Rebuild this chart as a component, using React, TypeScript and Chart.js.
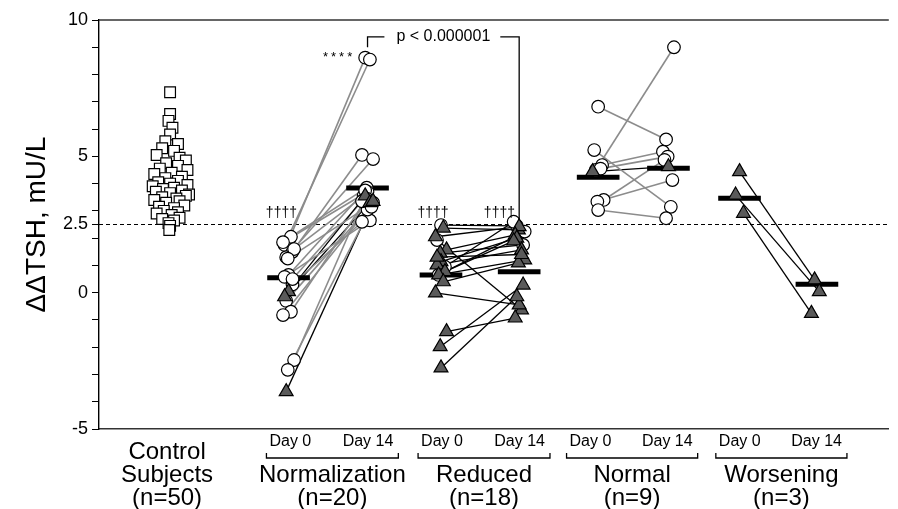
import React, { useEffect, useRef } from 'react';
import { Chart, registerables } from 'chart.js';

Chart.register(...registerables);

const FONT = '"Liberation Sans", Arial, Helvetica, sans-serif';

// ---------- axis ----------
const Y_MIN = -5;
const Y_MAX = 10;
const Y_TICKS = [-5, -4, -3, -2, -1, 0, 1, 2, 2.5, 3, 4, 5, 6, 7, 8, 9, 10];
const Y_LABELED = [-5, 0, 2.5, 5, 10];
const THRESHOLD = 2.5;
const Y_TITLE = 'ΔΔTSH, mU/L';

// ---------- control subjects ----------
const CONTROL_LABEL = ['Control', 'Subjects', '(n=50)'];
const CONTROL_X = 0.9;
const CONTROL_VALUES = [
  7.35, 6.55, 6.3, 6.05, 5.8, 5.55, 5.45, 5.3, 5.2, 5.05,
  4.95, 4.85, 4.75, 4.65, 4.55, 4.5, 4.4, 4.35, 4.25, 4.2,
  4.1, 4.05, 4.0, 3.95, 3.9, 3.85, 3.8, 3.75, 3.7, 3.65,
  3.6, 3.55, 3.5, 3.45, 3.4, 3.35, 3.3, 3.2, 3.15, 3.1,
  3.0, 2.95, 2.9, 2.85, 2.75, 2.7, 2.65, 2.55, 2.45, 2.3,
];
const CONTROL_OFFSETS = [
  0, 0, -0.02, 0.03, 0, -0.06, 0.1, -0.1, 0.05, -0.17,
  0.12, 0.2, -0.05, 0.1, -0.13, 0.22, 0.02, -0.2, 0.15, -0.06,
  0.1, -0.15, 0.0, 0.22, -0.22, 0.05, -0.09, 0.15, -0.18, 0.0,
  0.24, 0.2, -0.1, 0.08, -0.2, 0.12, -0.05, 0.18, -0.14, 0.05,
  -0.08, 0.1, -0.17, 0.02, 0.12, -0.1, 0.05, -0.02, 0.0, -0.01,
];
const CONTROL_MEAN = 3.88;

// ---------- paired groups ----------
const GROUP_NAMES = ['Normalization', 'Reduced', 'Normal', 'Worsening'];
const GROUP_N = ['(n=20)', '(n=18)', '(n=9)', '(n=3)'];
const DAY_LABELS = ['Day 0', 'Day 14'];
const DAY0_X = [2.4, 4.33, 6.32, 8.11];
const DAY14_X = [3.4, 5.32, 7.21, 9.09];
const BRACKET_START = [2.12, 4.04, 5.92, 7.81];
const BRACKET_END = [3.79, 5.71, 7.58, 9.47];
const MEAN_DAY0 = [0.55, 0.65, 4.23, 3.46];
const MEAN_DAY14 = [3.84, 0.77, 4.56, 0.31];

// o = open circle, t = filled triangle ; g = grey line, k = black line
const NORM_DAY0 = [1.9, 1.75, 1.5, 1.3, 2.05, 1.85, 1.6, 1.25, 0.65, 0.58, 0.3, -0.3, -0.7, -0.82, -2.47, -2.83, 0.04, -0.15, 0.5, -3.63];
const NORM_DAY14 = [8.62, 8.55, 5.05, 4.9, 3.85, 3.7, 3.55, 3.25, 3.75, 2.65, 2.6, 3.3, 3.45, 3.05, 3.4, 3.15, 3.55, 3.3, 3.35, 3.35];
const NORM_SHAPE0 = ['o', 'o', 'o', 'o', 'o', 'o', 'o', 'o', 'o', 'o', 'o', 'o', 'o', 'o', 'o', 'o', 't', 't', 'o', 't'];
const NORM_SHAPE14 = ['o', 'o', 'o', 'o', 'o', 'o', 'o', 'o', 'o', 'o', 'o', 'o', 'o', 'o', 'o', 'o', 't', 't', 'o', 't'];
const NORM_LINE = ['g', 'g', 'g', 'g', 'g', 'g', 'g', 'g', 'g', 'g', 'g', 'g', 'g', 'g', 'g', 'g', 'k', 'k', 'g', 'k'];

const RED_DAY0 = [2.48, 1.93, 0.95, 0.65, 2.37, 2.05, 1.57, 1.45, 1.14, 1.02, 0.77, 0.65, 0.4, -0.01, -1.43, -1.98, -2.76, 1.3];
const RED_DAY14 = [2.45, -0.63, 2.6, 2.24, 2.3, 2.42, 2.12, 1.75, 2.0, 1.57, 1.9, 1.2, 1.09, -0.45, -0.93, 0.28, -0.15, 1.4];
const RED_SHAPE0 = ['o', 'o', 'o', 'o', 't', 't', 't', 't', 't', 't', 't', 't', 't', 't', 't', 't', 't', 't'];
const RED_SHAPE14 = ['o', 't', 'o', 'o', 't', 't', 't', 'o', 't', 't', 't', 't', 't', 't', 't', 't', 't', 't'];
const RED_LINE = ['k', 'k', 'k', 'k', 'k', 'k', 'k', 'k', 'k', 'k', 'k', 'k', 'k', 'k', 'k', 'k', 'k', 'k'];

const NML_DAY0 = [6.82, 5.23, 4.68, 4.5, 4.55, 4.44, 3.4, 3.34, 3.03];
const NML_DAY14 = [5.62, 3.15, 5.17, 9.0, 4.99, 4.62, 4.87, 4.13, 2.73];
const NML_SHAPE0 = ['o', 'o', 'o', 'o', 'o', 't', 'o', 'o', 'o'];
const NML_SHAPE14 = ['o', 'o', 'o', 'o', 'o', 't', 'o', 'o', 'o'];
const NML_LINE = ['g', 'g', 'g', 'g', 'g', 'k', 'g', 'g', 'g'];

const WORS_DAY0 = [4.44, 3.58, 2.91];
const WORS_DAY14 = [0.47, 0.04, -0.76];
const WORS_SHAPE0 = ['t', 't', 't'];
const WORS_SHAPE14 = ['t', 't', 't'];
const WORS_LINE = ['k', 'k', 'k'];

// ---------- annotations ----------
const ANNOT_TEXT = ['††††', '††††', '††††', '****'];
const ANNOT_X = [2.31, 4.23, 5.07, 3.04];
const ANNOT_Y = [2.92, 2.92, 2.92, 8.64];
const P_TEXT = 'p < 0.000001';
const P_TOP = 9.38;
const P_LEFT_BOTTOM = 9.0;
const P_RIGHT_BOTTOM = 2.65;

// ---------- layout / style (not data) ----------
const JITTER = [0, -0.05, 0.05, -0.03, 0.03, -0.07, 0.07, -0.01];
const MEAN_HALF = 0.27;
const GREY = '#8c8c8c';
const TRI_FILL = '#5a5a5a';

const GROUPS = [
  { d0: NORM_DAY0, d14: NORM_DAY14, s0: NORM_SHAPE0, s14: NORM_SHAPE14, line: NORM_LINE },
  { d0: RED_DAY0, d14: RED_DAY14, s0: RED_SHAPE0, s14: RED_SHAPE14, line: RED_LINE },
  { d0: NML_DAY0, d14: NML_DAY14, s0: NML_SHAPE0, s14: NML_SHAPE14, line: NML_LINE },
  { d0: WORS_DAY0, d14: WORS_DAY14, s0: WORS_SHAPE0, s14: WORS_SHAPE14, line: WORS_LINE },
];

function buildDatasets() {
  const lines: any[] = [];
  const circles: any[] = [];
  const triangles: any[] = [];
  GROUPS.forEach((g, gi) => {
    g.d0.forEach((v0, i) => {
      const x0 = DAY0_X[gi] + JITTER[i % JITTER.length];
      const x1 = DAY14_X[gi] + JITTER[(i + 3) % JITTER.length];
      const v1 = g.d14[i];
      lines.push({
        data: [{ x: x0, y: v0 }, { x: x1, y: v1 }],
        showLine: true,
        pointRadius: 0,
        borderColor: g.line[i] === 'g' ? GREY : '#000',
        borderWidth: g.line[i] === 'g' ? 1.6 : 1.3,
        order: 3,
      });
      (g.s0[i] === 't' ? triangles : circles).push({ x: x0, y: v0 });
      (g.s14[i] === 't' ? triangles : circles).push({ x: x1, y: v1 });
    });
  });
  const means: any[] = [];
  const meanPairs: [number, number][] = [[CONTROL_X, CONTROL_MEAN]];
  DAY0_X.forEach((x, i) => meanPairs.push([x, MEAN_DAY0[i]]));
  DAY14_X.forEach((x, i) => meanPairs.push([x, MEAN_DAY14[i]]));
  meanPairs.forEach(([x, m]) => {
    means.push({
      data: [{ x: x - MEAN_HALF, y: m }, { x: x + MEAN_HALF, y: m }],
      showLine: true,
      pointRadius: 0,
      borderColor: '#000',
      borderWidth: 5,
      borderCapStyle: 'butt',
      order: 2,
    });
  });
  const control = {
    data: CONTROL_VALUES.map((v, i) => ({ x: CONTROL_X + CONTROL_OFFSETS[i], y: v })),
    pointStyle: 'rect',
    pointRadius: 7.6,
    backgroundColor: '#fff',
    borderColor: '#000',
    borderWidth: 1.2,
    order: 1,
  };
  const circ = {
    data: circles,
    pointStyle: 'circle',
    pointRadius: 6.3,
    backgroundColor: '#fff',
    borderColor: '#000',
    borderWidth: 1.2,
    order: 1,
  };
  const tri = {
    data: triangles,
    pointStyle: 'triangle',
    pointRadius: 8,
    backgroundColor: TRI_FILL,
    borderColor: '#000',
    borderWidth: 1.2,
    order: 0,
  };
  return [...lines, ...means, control, circ, tri];
}

const decor = {
  id: 'decor',
  beforeDatasetsDraw(chart: any) {
    const { ctx, chartArea, scales } = chart;
    const { left, right, top } = chartArea;
    ctx.save();
    const ty = scales.y.getPixelForValue(THRESHOLD);
    ctx.strokeStyle = '#000';
    ctx.lineWidth = 1;
    ctx.setLineDash([4, 3]);
    ctx.beginPath();
    ctx.moveTo(left, ty);
    ctx.lineTo(right, ty);
    ctx.stroke();
    ctx.setLineDash([]);
    ctx.strokeStyle = '#333';
    ctx.lineWidth = 1.6;
    ctx.beginPath();
    ctx.moveTo(left, top);
    ctx.lineTo(right, top);
    ctx.stroke();
    ctx.restore();
  },
  afterDraw(chart: any) {
    const { ctx, chartArea, scales } = chart;
    const { bottom, top } = chartArea;
    const xs = scales.x;
    const ys = scales.y;
    ctx.save();
    ctx.fillStyle = '#000';
    ctx.strokeStyle = '#000';

    // y title, centred on the axis
    ctx.save();
    ctx.translate(45, (top + bottom) / 2);
    ctx.rotate(-Math.PI / 2);
    ctx.font = `28px ${FONT}`;
    ctx.textAlign = 'center';
    ctx.textBaseline = 'alphabetic';
    ctx.fillText(Y_TITLE, 0, 0);
    ctx.restore();

    // control label
    ctx.font = `24px ${FONT}`;
    ctx.textAlign = 'center';
    ctx.textBaseline = 'middle';
    const cx = xs.getPixelForValue(CONTROL_X) - 3;
    CONTROL_LABEL.forEach((t, i) => ctx.fillText(t, cx, bottom + 23 + i * 23));

    // group labels
    GROUP_NAMES.forEach((name, gi) => {
      const bs = xs.getPixelForValue(BRACKET_START[gi]);
      const be = xs.getPixelForValue(BRACKET_END[gi]);
      ctx.font = `16px ${FONT}`;
      ctx.textBaseline = 'middle';
      ctx.textAlign = 'left';
      ctx.fillText(DAY_LABELS[0], bs + 3, bottom + 13);
      ctx.textAlign = 'right';
      ctx.fillText(DAY_LABELS[1], be - 5, bottom + 13);
      ctx.lineWidth = 1.3;
      ctx.beginPath();
      ctx.moveTo(bs, bottom + 24);
      ctx.lineTo(bs, bottom + 29);
      ctx.lineTo(be, bottom + 29);
      ctx.lineTo(be, bottom + 24);
      ctx.stroke();
      ctx.font = `24px ${FONT}`;
      ctx.textAlign = 'center';
      const mid = (bs + be) / 2;
      ctx.fillText(name, mid, bottom + 46);
      ctx.fillText(GROUP_N[gi], mid, bottom + 69);
    });

    // annotations
    ANNOT_TEXT.forEach((t, i) => {
      const isStar = t.startsWith('*');
      ctx.font = `${isStar ? 13 : 14}px ${FONT}`;
      (ctx as any).letterSpacing = isStar ? '3px' : '0px';
      ctx.textAlign = 'center';
      ctx.textBaseline = 'middle';
      ctx.fillText(t, xs.getPixelForValue(ANNOT_X[i]), ys.getPixelForValue(ANNOT_Y[i]));
    });
    (ctx as any).letterSpacing = '0px';

    // p-value bracket
    const lx = xs.getPixelForValue(DAY14_X[0]);
    const rx = xs.getPixelForValue(DAY14_X[1]);
    const ty = ys.getPixelForValue(P_TOP);
    ctx.font = `16px ${FONT}`;
    ctx.textAlign = 'center';
    ctx.textBaseline = 'middle';
    const pm = (lx + rx) / 2;
    const tw = ctx.measureText(P_TEXT).width;
    ctx.fillText(P_TEXT, pm, ty);
    ctx.lineWidth = 1.3;
    ctx.beginPath();
    ctx.moveTo(lx, ys.getPixelForValue(P_LEFT_BOTTOM));
    ctx.lineTo(lx, ty);
    ctx.lineTo(pm - tw / 2 - 12, ty);
    ctx.moveTo(pm + tw / 2 + 10, ty);
    ctx.lineTo(rx, ty);
    ctx.lineTo(rx, ys.getPixelForValue(P_RIGHT_BOTTOM));
    ctx.stroke();

    ctx.restore();
  },
};

export default function App() {
  const ref = useRef<HTMLCanvasElement | null>(null);
  useEffect(() => {
    if (!ref.current) return;
    const chart = new Chart(ref.current, {
      type: 'scatter',
      data: { datasets: buildDatasets() },
      options: {
        animation: false,
        responsive: true,
        maintainAspectRatio: false,
        events: [],
        layout: { padding: { top: 20, right: 0, bottom: 80, left: 0 } },
        plugins: { legend: { display: false }, tooltip: { enabled: false } },
        scales: {
          x: {
            type: 'linear',
            min: 0,
            max: 10,
            ticks: { display: false },
            grid: { display: false, drawTicks: false },
            border: { display: true, color: '#333', width: 1.6 },
            afterFit: (s: any) => { s.height = 0; },
          },
          y: {
            type: 'linear',
            min: Y_MIN,
            max: Y_MAX,
            afterBuildTicks: (s: any) => { s.ticks = Y_TICKS.map((v) => ({ value: v })); },
            ticks: {
              autoSkip: false,
              padding: 4,
              color: '#000',
              font: { family: FONT, size: 18 },
              callback: (v: any) => (Y_LABELED.includes(Number(v)) ? String(v) : ''),
            },
            grid: { drawOnChartArea: false, drawTicks: true, tickLength: 7, color: '#000', lineWidth: 1 },
            border: { display: true, color: '#000', width: 1.4 },
            afterFit: (s: any) => { s.width = 99; },
          },
        },
      },
      plugins: [decor],
    } as any);
    return () => chart.destroy();
  }, []);
  return (
    <div style={{ position: 'fixed', left: 0, top: 0, width: 898, height: 509, background: '#fff' }}>
      <canvas ref={ref} />
    </div>
  );
}
